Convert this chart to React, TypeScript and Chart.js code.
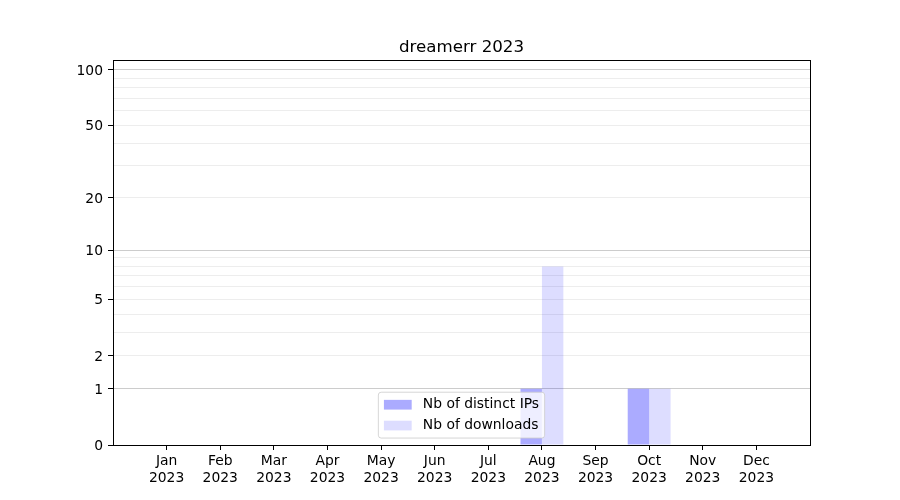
import React, { useEffect, useRef } from "react";
import { Chart, registerables, LinearScale } from "chart.js";

const TITLE = "dreamerr 2023";
const MONTHS = ["Jan", "Feb", "Mar", "Apr", "May", "Jun", "Jul", "Aug", "Sep", "Oct", "Nov", "Dec"];
const YEAR = "2023";
const DISTINCT_IPS = [0, 0, 0, 0, 0, 0, 0, 1, 0, 1, 0, 0];
const DOWNLOADS = [0, 0, 0, 0, 0, 0, 0, 8, 0, 1, 0, 0];
const SERIES_NAMES = ["Nb of distinct IPs", "Nb of downloads"];
const Y_LABELED = [0, 1, 2, 5, 10, 20, 50, 100];
const Y_MAJOR = [1, 10, 100];
const Y_GRID = [0, 1, 2, 3, 4, 5, 6, 7, 8, 9, 10, 20, 30, 40, 50, 60, 70, 80, 90, 100];
const Y_MAX = 113;

const COLOR_IPS = "rgba(0,0,255,0.33)";
const COLOR_DL = "rgba(0,0,255,0.135)";
const FONT = "'DejaVu Sans', sans-serif";
const FS = 13.89;

class Log1pScale extends LinearScale {
  static id = "log1p";
  static defaults = {};
  _t0 = 0;
  _t1 = 1;
  determineDataLimits() {
    const o: any = this.options;
    (this as any).min = o.min;
    (this as any).max = o.max;
  }
  buildTicks() {
    return Y_GRID.map((v) => ({ value: v })) as any;
  }
  configure() {
    super.configure();
    this._t0 = Math.log10(1 + (this as any).min);
    this._t1 = Math.log10(1 + (this as any).max);
  }
  getPixelForValue(v: number) {
    return this.getPixelForDecimal((Math.log10(1 + v) - this._t0) / (this._t1 - this._t0));
  }
  getValueForPixel(p: number) {
    return Math.pow(10, this._t0 + this.getDecimalForPixel(p) * (this._t1 - this._t0)) - 1;
  }
  _computeLabelItems(chartArea: any) {
    const items = (LinearScale.prototype as any)._computeLabelItems.call(this, chartArea);
    items.forEach((it: any) => {
      const t = it.options && it.options.translation;
      if (t) it.options.translation = [t[0], t[1] + 1.5];
    });
    return items;
  }
}

Chart.register(...registerables, Log1pScale as any);

const framePlugin = {
  id: "frameAndLegend",
  afterDraw(chart: any) {
    const ctx = chart.ctx as CanvasRenderingContext2D;
    const a = chart.chartArea;
    ctx.save();
    // frame
    ctx.strokeStyle = "#000";
    ctx.lineWidth = 1;
    ctx.strokeRect(Math.round(a.left) + 0.5, Math.round(a.top) + 0.5, Math.round(a.right) - Math.round(a.left), Math.round(a.bottom) - Math.round(a.top));

    // legend
    const borderpad = 0.4 * FS;
    const handleLen = 2.0 * FS;
    const handleH = 0.7 * FS;
    const textPad = 0.8 * FS;
    const spacing = 0.5 * FS;
    const axPad = 0.5 * FS;
    const rowH = FS;
    ctx.font = `${FS}px ${FONT}`;
    const textW = Math.max(...SERIES_NAMES.map((s) => ctx.measureText(s).width));
    const w = 2 * borderpad + handleLen + textPad + textW;
    const h = 2 * borderpad + SERIES_NAMES.length * rowH + (SERIES_NAMES.length - 1) * spacing;
    const left = (a.left + a.right) / 2 - w / 2;
    const top = a.bottom - axPad - h;
    const r = 0.2 * FS;
    ctx.beginPath();
    ctx.moveTo(left + r, top);
    ctx.arcTo(left + w, top, left + w, top + h, r);
    ctx.arcTo(left + w, top + h, left, top + h, r);
    ctx.arcTo(left, top + h, left, top, r);
    ctx.arcTo(left, top, left + w, top, r);
    ctx.closePath();
    ctx.fillStyle = "rgba(255,255,255,0.8)";
    ctx.fill();
    ctx.strokeStyle = "rgba(204,204,204,0.8)";
    ctx.lineWidth = 1;
    ctx.stroke();
    const colors = [COLOR_IPS, COLOR_DL];
    SERIES_NAMES.forEach((name, i) => {
      const cy = top + borderpad + i * (rowH + spacing) + rowH / 2;
      ctx.fillStyle = colors[i];
      ctx.fillRect(left + borderpad, cy - handleH / 2, handleLen, handleH);
      ctx.fillStyle = "#000";
      ctx.textBaseline = "middle";
      ctx.textAlign = "left";
      ctx.fillText(name, left + borderpad + handleLen + textPad, cy);
    });
    ctx.restore();
  },
};

export default function App() {
  const ref = useRef<HTMLCanvasElement | null>(null);
  useEffect(() => {
    document.body.style.margin = "0";
    if (!ref.current) return;
    Chart.defaults.font.family = FONT;
    Chart.defaults.color = "#000";
    const chart = new Chart(ref.current, {
      type: "bar",
      data: {
        datasets: [
          {
            label: SERIES_NAMES[0],
            data: MONTHS.map((_, i) => ({ x: i, y: DISTINCT_IPS[i] })),
            backgroundColor: COLOR_IPS,
            borderWidth: 0,
          },
          {
            label: SERIES_NAMES[1],
            data: MONTHS.map((_, i) => ({ x: i, y: DOWNLOADS[i] })),
            backgroundColor: COLOR_DL,
            borderWidth: 0,
          },
        ],
      },
      plugins: [framePlugin],
      options: {
        animation: false,
        responsive: false,
        devicePixelRatio: 1,
        layout: { padding: { left: 0, right: 90, top: 0, bottom: 0 } },
        datasets: { bar: { categoryPercentage: 0.8, barPercentage: 1.0 } },
        plugins: {
          legend: { display: false },
          tooltip: { enabled: false },
          title: {
            display: true,
            fullSize: false,
            text: TITLE,
            color: "#000",
            font: { size: 16.67, weight: "normal", family: FONT, lineHeight: 1.2 },
            padding: { top: 38, bottom: 2 },
          },
        },
        scales: {
          x: {
            type: "linear",
            min: -1,
            max: 12,
            offset: false,
            grid: { display: true, drawOnChartArea: false, offset: false, tickColor: "#000", tickLength: 5 },
            border: { display: true, color: "#000", width: 1 },
            afterBuildTicks: (s: any) => {
              s.ticks = MONTHS.map((_, i) => ({ value: i }));
            },
            afterFit: (s: any) => {
              s.height = 55;
            },
            ticks: {
              autoSkip: false,
              maxRotation: 0,
              padding: 3,
              color: "#000",
              font: { size: FS, family: FONT, lineHeight: 1.2 },
              callback: (v: any) => [MONTHS[Number(v)], YEAR],
            },
          },
          y: {
            type: "log1p" as any,
            min: 0,
            max: Y_MAX,
            grid: {
              color: (c: any) =>
                c.tick && c.tick.value === 0 ? "rgba(0,0,0,0)" : Y_MAJOR.includes(c.tick?.value) ? "#cccccc" : "#ededed",
              tickColor: (c: any) => (Y_LABELED.includes(c.tick?.value) ? "#000" : "rgba(0,0,0,0)"),
              tickLength: 5,
              lineWidth: 1,
            },
            border: { display: true, color: "#000", width: 1 },
            afterFit: (s: any) => {
              s.width = 113;
            },
            ticks: {
              autoSkip: false,
              padding: 5,
              color: "#000",
              font: { size: FS, family: FONT },
              callback: (v: any) => (Y_LABELED.includes(Number(v)) ? String(v) : ""),
            },
          } as any,
        },
      } as any,
    });
    return () => chart.destroy();
  }, []);
  return (
    <div style={{ width: 900, height: 500 }}>
      <canvas ref={ref} width={900} height={500} />
    </div>
  );
}
